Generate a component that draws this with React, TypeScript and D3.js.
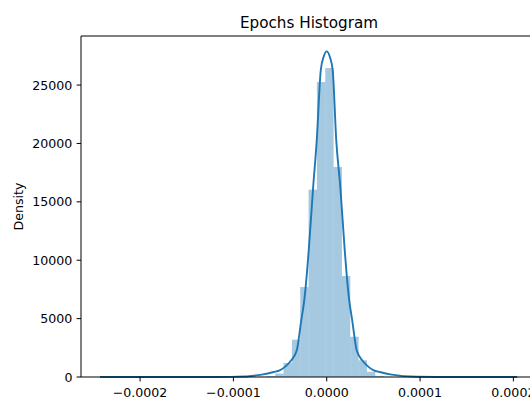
import React from "react";
import * as d3 from "d3";

// Histogram: 50 equal-width bins spanning the sample range
const dataMin = -0.0002429;
const dataMax = 0.000204;
const binCount = 50;
// Density per bin (bins 0..49), tails are near zero
const binDensity = [
  0, 0, 0, 0, 0, 0, 0, 0, 0, 0,
  0, 0, 0, 0, 0, 0, 0, 0, 0, 30,
  80, 300, 1200, 3200, 7705, 16040, 25257, 26455, 17980, 8650,
  3450, 1430, 450, 100, 20, 0, 0, 0, 0, 0,
  0, 0, 0, 0, 0, 0, 0, 0, 0, 0,
];

// Kernel density estimate, sampled along the support
const kdeX = [
  -0.0002429, -0.00015, -0.000118, -0.0000964, -0.0000696, -0.0000568, -0.0000504,
  -0.0000429, -0.000038, -0.0000321, -0.0000273, -0.0000241, -0.0000225, -0.0000193,
  -0.0000144, -0.0000107, -0.0000064, -0.0000032, 0, 0.0000032, 0.0000064, 0.0000102,
  0.0000144, 0.0000193, 0.0000225, 0.0000241, 0.0000273, 0.0000321, 0.000038, 0.0000429,
  0.0000504, 0.0000568, 0.0000696, 0.0000964, 0.000118, 0.00015, 0.000204,
];
const kdeY = [
  0, 0, 5, 20, 205, 428, 573,
  1000, 1430, 2286, 4854, 6565, 7764, 10844,
  16410, 20262, 26253, 27450, 27885, 27450, 26253, 20262,
  16410, 10844, 7764, 6565, 4854, 2286, 1430, 1000,
  573, 428, 205, 20, 5, 0, 0,
];

const xTicks = [-0.0002, -0.0001, 0, 0.0001, 0.0002];
const yTicks = [0, 5000, 10000, 15000, 20000, 25000];

const W = 530;
const H = 399;
const left = 81;
const right = 537;
const top = 36;
const bottom = 377;
const blue = "#1f77b4";
const font = "DejaVu Sans, sans-serif";

const fmtX = (v: number) => {
  const s = Math.abs(v).toFixed(4);
  return v < 0 ? "\u2212" + s : s;
};

export default function App() {
  const x = d3.scaleLinear().domain([-0.0002633, 0.0002253]).range([left, right]);
  const y = d3.scaleLinear().domain([0, 29200]).range([bottom, top]);
  const binW = (dataMax - dataMin) / binCount;

  const line = d3
    .line<number>()
    .x((_, i) => x(kdeX[i]))
    .y((d) => y(d))
    .curve(d3.curveMonotoneX);

  return (
    <svg
      width={W}
      height={H}
      style={{ position: "absolute", left: 0, top: 0, background: "#fff" }}
      fontFamily={font}
    >
      <rect x={0} y={0} width={W} height={H} fill="#fff" />
      <g>
        {binDensity.map((d, i) => {
          if (d <= 0) return null;
          const x0 = x(dataMin + i * binW);
          const x1 = x(dataMin + (i + 1) * binW);
          return (
            <rect
              key={i}
              x={x0}
              y={y(d)}
              width={x1 - x0}
              height={y(0) - y(d)}
              fill={blue}
              fillOpacity={0.4}
            />
          );
        })}
      </g>
      <path d={line(kdeY) || ""} fill="none" stroke={blue} strokeWidth={1.9} />

      {/* spines */}
      <line x1={left} x2={left} y1={top} y2={bottom} stroke="#000" strokeWidth={1} />
      <line x1={left} x2={right} y1={top} y2={top} stroke="#000" strokeWidth={1} />
      <line x1={left} x2={right} y1={bottom} y2={bottom} stroke="#000" strokeWidth={1} />
      <line x1={right} x2={right} y1={top} y2={bottom} stroke="#000" strokeWidth={1} />

      {/* y axis */}
      {yTicks.map((t) => (
        <g key={t}>
          <line x1={left - 4.4} x2={left} y1={y(t)} y2={y(t)} stroke="#000" strokeWidth={1} />
          <text
            x={left - 8.6}
            y={y(t)}
            dy="0.36em"
            textAnchor="end"
            fontSize={12.6}
            fill="#000"
          >
            {t}
          </text>
        </g>
      ))}
      <text
        transform={`translate(23,${(top + bottom) / 2}) rotate(-90)`}
        textAnchor="middle"
        fontSize={12.6}
        fill="#000"
      >
        Density
      </text>

      {/* x axis */}
      {xTicks.map((t) => (
        <g key={t}>
          <line x1={x(t)} x2={x(t)} y1={bottom} y2={bottom + 4.4} stroke="#000" strokeWidth={1} />
          <text x={x(t)} y={397} textAnchor="middle" fontSize={12.6} fill="#000">
            {fmtX(t)}
          </text>
        </g>
      ))}

      <text x={(left + right) / 2} y={28} textAnchor="middle" fontSize={15.2} fill="#000">
        Epochs Histogram
      </text>
    </svg>
  );
}
